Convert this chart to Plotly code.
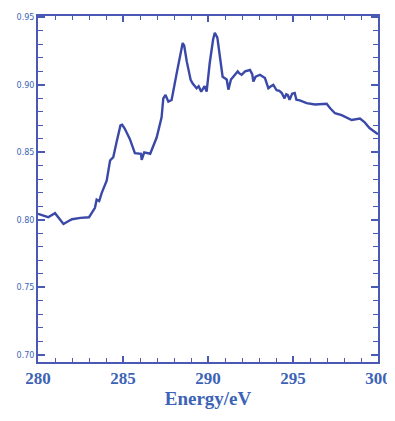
import plotly.graph_objects as go

energy = [280.0, 280.3, 280.6, 281.0, 281.2, 281.5, 281.7, 282.0, 282.5, 283.0,
          283.1, 283.35, 283.45, 283.6, 283.75, 284.04, 284.24, 284.43, 284.63, 284.85,
          284.95, 285.1, 285.4, 285.7, 286.06, 286.1, 286.25, 286.6, 286.98, 287.27,
          287.37, 287.5, 287.67, 287.86, 288.16, 288.35, 288.51, 288.6, 288.75, 288.98,
          289.1, 289.33, 289.45, 289.6, 289.8, 289.92, 290.1, 290.3, 290.4, 290.55,
          290.7, 290.86, 291.1, 291.2, 291.35, 291.6, 291.75, 291.85, 291.98, 292.18,
          292.47, 292.6, 292.67, 292.8, 293.06, 293.35, 293.55, 293.7, 293.84, 294.04,
          294.2, 294.34, 294.5, 294.6, 294.69, 294.8, 294.95, 295.1, 295.2, 295.4,
          295.8, 296.3, 296.98, 297.2, 297.47, 297.86, 298.45, 298.94, 299.2, 299.5,
          299.9, 300.0]
absorbance = [0.8045, 0.8035, 0.802, 0.805, 0.802, 0.797, 0.7985, 0.8005, 0.8015, 0.802,
              0.804, 0.809, 0.815, 0.814, 0.820, 0.829, 0.844, 0.8465, 0.858, 0.870,
              0.8705, 0.8677, 0.860, 0.8495, 0.849, 0.8445, 0.850, 0.849, 0.861, 0.876,
              0.890, 0.8925, 0.8876, 0.8888, 0.9087, 0.920, 0.931, 0.929, 0.9174, 0.9037,
              0.901, 0.8975, 0.899, 0.895, 0.899, 0.895, 0.916, 0.9336, 0.9386, 0.935,
              0.9187, 0.906, 0.904, 0.8965, 0.904, 0.9075, 0.910, 0.9085, 0.9075, 0.910,
              0.911, 0.908, 0.9025, 0.906, 0.9075, 0.905, 0.8975, 0.899, 0.900, 0.896,
              0.8955, 0.894, 0.890, 0.893, 0.8925, 0.889, 0.8935, 0.894, 0.889, 0.8885,
              0.8865, 0.8855, 0.886, 0.8825, 0.879, 0.8776, 0.874, 0.875, 0.8725, 0.868,
              0.864, 0.8635]

x_ticks = [280, 285, 290, 295, 300]
y_ticks = [0.70, 0.75, 0.80, 0.85, 0.90, 0.95]

line_col = "#3a48a8"
axis_col = "#4a5ab4"
label_col = "#3c63b6"

fig = go.Figure()
fig.add_trace(go.Scatter(x=energy, y=absorbance, mode="lines",
                         line=dict(color=line_col, width=2.4), showlegend=False))

# the page body adds an 8px margin, so the figure is 8px smaller and offsets compensated
fig.update_layout(
    width=387, height=413,
    margin=dict(l=30, r=17, t=8, b=59, autoexpand=False),
    paper_bgcolor="white", plot_bgcolor="white",
    xaxis=dict(
        range=[280, 300], tickvals=x_ticks,
        ticktext=["<b>%d</b>" % v for v in x_ticks],
        automargin=False, ticklabeloverflow="allow",
        ticks="inside", ticklen=6, tickwidth=1.5, tickcolor=axis_col,
        minor=dict(dtick=1, ticks="inside", ticklen=4, tickwidth=1.2, tickcolor=axis_col),
        showline=True, linecolor=axis_col, linewidth=2, mirror="allticks",
        showgrid=False, zeroline=False,
        tickfont=dict(family="Liberation Serif", size=17, color=label_col),
        title=dict(text="<b>Energy/eV</b>", standoff=2,
                   font=dict(family="Liberation Serif", size=19, color=label_col)),
    ),
    yaxis=dict(
        range=[0.6948, 0.951], tickvals=y_ticks, tickformat=".2f",
        automargin=False,
        ticks="inside", ticklen=7, tickwidth=1.5, tickcolor=axis_col,
        minor=dict(dtick=0.01, tick0=0.70, ticks="inside", ticklen=5, tickwidth=1.2, tickcolor=axis_col),
        showline=True, linecolor=axis_col, linewidth=2, mirror="allticks",
        showgrid=False, zeroline=False,
        tickfont=dict(family="DejaVu Sans", size=8, color=label_col),
    ),
)

fig.write_html("out.html")
